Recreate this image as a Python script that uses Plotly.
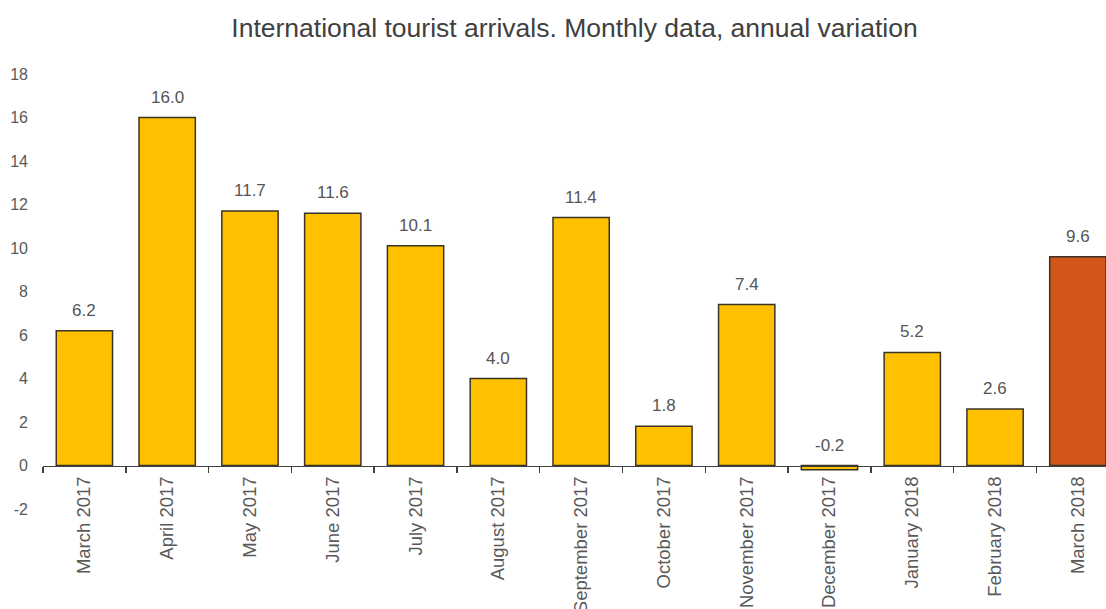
import plotly.graph_objects as go

categories = ["March 2017", "April 2017", "May 2017", "June 2017", "July 2017",
              "August 2017", "September 2017", "October 2017", "November 2017",
              "December 2017", "January 2018", "February 2018", "March 2018"]
values = [6.2, 16.0, 11.7, 11.6, 10.1, 4.0, 11.4, 1.8, 7.4, -0.2, 5.2, 2.6, 9.6]
y_ticks = [-2, 0, 2, 4, 6, 8, 10, 12, 14, 16, 18]
y_tick_text = [str(t) for t in y_ticks]

YELLOW = "#FFC000"
ORANGE = "#D4561A"
colors = [YELLOW] * (len(values) - 1) + [ORANGE]

FONT = "Liberation Sans, Arial"

fig = go.Figure()
fig.add_trace(go.Bar(
    x=categories, y=values,
    marker=dict(color=colors, line=dict(color="#3a3426", width=1.5)),
    width=0.68,
    hoverinfo="skip",
))

for c, v in zip(categories, values):
    fig.add_annotation(
        x=c, y=max(v, 0), text=f"{v:.1f}".replace("\u2212", "-"), showarrow=False,
        yanchor="bottom", yshift=9,
        font=dict(family=FONT, size=17, color="#555555"),
    )

fig.update_layout(
    width=1106, height=609,
    margin=dict(l=43, r=0, t=74, b=100, autoexpand=False),
    plot_bgcolor="white", paper_bgcolor="white",
    showlegend=False,
    title=dict(
        text="International tourist arrivals. Monthly data, annual variation",
        x=0.5, xref="paper", xanchor="center", yref="container",
        y=1 - 28 / 609, yanchor="middle",
        font=dict(family=FONT, size=26.5, color="#404040"),
    ),
    font=dict(family=FONT, color="#595959"),
)

fig.update_xaxes(
    type="category",
    range=[-0.5, 12.34],
    anchor="free", position=0.1,
    automargin=False,
    showline=True, linecolor="#404040", linewidth=1.5,
    ticks="outside", tickson="boundaries", ticklen=6, tickcolor="#404040", tickwidth=1.5,
    tickangle=-90,
    tickfont=dict(family=FONT, size=18.5, color="#595959"),
    ticklabelstandoff=2,
    showgrid=False, zeroline=False,
)
fig.update_yaxes(
    range=[-2, 18],
    tickvals=y_ticks, ticktext=y_tick_text,
    automargin=False,
    showgrid=False, zeroline=False, showline=False,
    ticks="",
    tickfont=dict(family=FONT, size=16, color="#595959"),
    ticklabelstandoff=14,
)

fig.write_html(
    "out.html",
    config={"displayModeBar": False, "staticPlot": True},
    post_script="document.body.style.margin='0';document.body.style.overflow='hidden';"
                "document.documentElement.style.overflow='hidden';",
)
